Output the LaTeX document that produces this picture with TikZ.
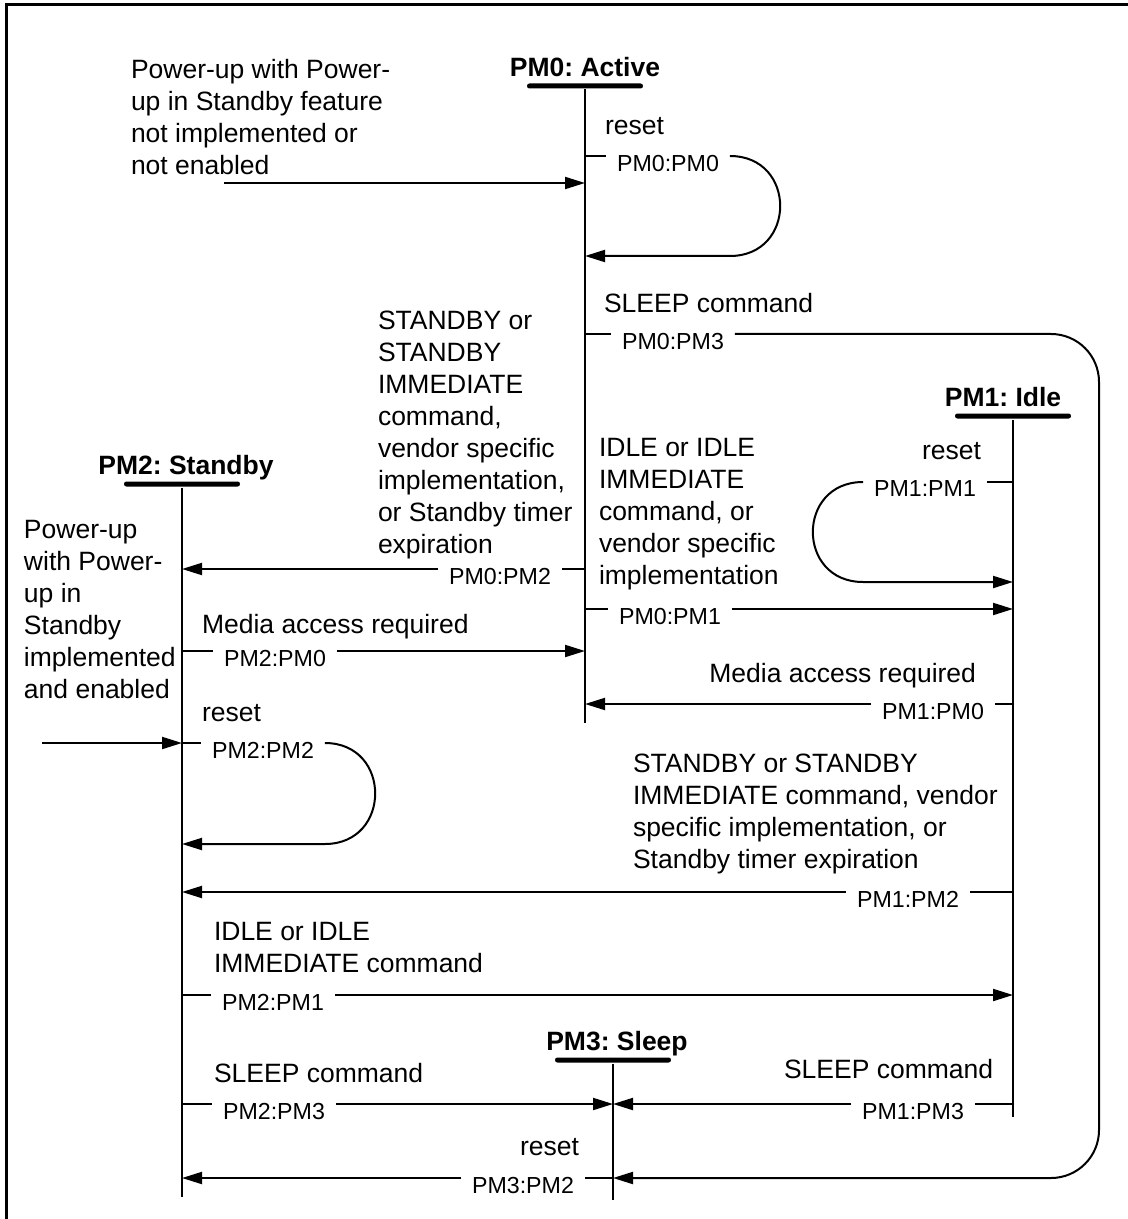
\documentclass[tikz,border=0pt]{standalone}
\usepackage{fontspec}
\setmainfont{Liberation Sans}
\usetikzlibrary{arrows.meta, positioning}
\frenchspacing

\begin{document}
\begin{tikzpicture}[x=0.5pt, y=-0.5pt, line width=1pt,
    arr/.style={-{Triangle[length=10pt, width=6pt]}},
    bar/.style={fill, minimum width=58pt, minimum height=2.5pt, inner sep=0pt, rounded corners=1.2pt},
    state/.style={font=\fontsize{13.25}{16}\selectfont\bfseries, inner sep=0pt},
    tr/.style={font=\fontsize{11.6}{14}\selectfont, inner xsep=5pt, inner ysep=-1pt, anchor=north},
    txt/.style={font=\fontsize{13.25}{16}\selectfont, align=left, inner sep=0pt, anchor=north west}]
    \useasboundingbox (0,0) rectangle (1128,1219);
    \draw[line width=1.5pt] (1128,5) -- (6,5) -- (6,1219);

    % states
    \node[bar] (b0) at (585,86) {};
    \node[bar] (b1) at (1013,416) {};
    \node[bar] (b2) at (182,484) {};
    \node[bar] (b3) at (613,1060) {};
    \node[state, above=3pt of b0, anchor=base] (s0) {PM0: Active};
    \node[state, above=3pt of b1, anchor=base, xshift=-5pt] (s1) {PM1: Idle};
    \node[state, above=3pt of b2, anchor=base, xshift=2pt] (s2) {PM2: Standby};
    \node[state, above=3pt of b3, anchor=base, xshift=2pt] (s3) {PM3: Sleep};

    \coordinate (e0) at (585,723);
    \coordinate (e1) at (1013,1117);
    \coordinate (e2) at (182,1197);
    \coordinate (e3) at (613,1200);
    \draw (b0) -- (e0);
    \draw (b1) -- (e1);
    \draw (b2) -- (e2);
    \draw (b3) -- (e3);

    % conditions
    \node[txt] (c0) at (130,58) {Power-up with Power-\\up in Standby feature\\not implemented or\\not enabled};
    \node[txt] (c00) at (604,116) {reset};
    \node[txt] (c03) at (603,292) {SLEEP command};
    \node[txt] (c02) at (377,310) {STANDBY or\\STANDBY\\IMMEDIATE\\command,\\vendor specific\\implementation,\\or Standby timer\\expiration};
    \node[txt] (c01) at (598,437) {IDLE or IDLE\\IMMEDIATE\\command, or\\vendor specific\\implementation};
    \node[txt, anchor=north east] (c11) at (982,441) {reset};
    \node[txt] (c2) at (23,519) {Power-up\\with Power-\\up in\\Standby\\implemented\\and enabled};
    \node[txt] (c20) at (201,613) {Media access required};
    \node[txt, anchor=north east] (c10) at (977,662) {Media access required};
    \node[txt] (c22) at (201,703) {reset};
    \node[txt] (c12) at (632,753) {STANDBY or STANDBY\\IMMEDIATE command, vendor\\specific implementation, or\\Standby timer expiration};
    \node[txt] (c21) at (213,921) {IDLE or IDLE\\IMMEDIATE command};
    \node[txt] (c23) at (213,1062) {SLEEP command};
    \node[txt] (c13) at (783,1058) {SLEEP command};
    \node[txt] (c32) at (519,1137) {reset};

    % transitions
    \node[tr] (t00) at (668,156) {PM0:PM0};
    \node[tr] (t03) at (673,334) {PM0:PM3};
    \node[tr] (t02) at (500,569) {PM0:PM2};
    \node[tr] (t01) at (670,609) {PM0:PM1};
    \node[tr] (t11) at (925,482) {PM1:PM1};
    \node[tr] (t10) at (933,704) {PM1:PM0};
    \node[tr] (t12) at (908,892) {PM1:PM2};
    \node[tr] (t13) at (913,1104) {PM1:PM3};
    \node[tr] (t20) at (275,651) {PM2:PM0};
    \node[tr] (t22) at (263,743) {PM2:PM2};
    \node[tr] (t21) at (273,995) {PM2:PM1};
    \node[tr] (t23) at (274,1104) {PM2:PM3};
    \node[tr] (t32) at (523,1178) {PM3:PM2};

    \coordinate (p0) at (224,183);
    \coordinate (p2) at (42,743);
    \coordinate (r00) at (585,256);
    \coordinate (r11) at (1013,582);
    \coordinate (r22) at (182,844);
    \coordinate (bend) at (1099,1178);

    % power-up
    \draw[arr] (p0) -- (p0 -| b0);
    \draw[arr] (p2) -- (p2 -| b2);

    % from PM0
    \draw (t00.north west -| b0) -- (t00.north west);
    \draw[arr] (t00.north east) .. controls +(67,0) and +(67,0) .. (t00.north east |- r00) -- (r00);
    \draw (t03.north west -| b0) -- (t03.north west);
    \draw[arr, rounded corners=24pt] (t03.north east) -| (bend) -- (bend -| b3);
    \draw (t02.north east -| b0) -- (t02.north east);
    \draw[arr] (t02.north west) -- (t02.north west -| b2);
    \draw (t01.north west -| b0) -- (t01.north west);
    \draw[arr] (t01.north east) -- (t01.north east -| b1);

    % from PM1
    \draw (t11.north east -| b1) -- (t11.north east);
    \draw[arr] (t11.north west) .. controls +(-67,0) and +(-67,0) .. (t11.north west |- r11) -- (r11);
    \draw (t10.north east -| b1) -- (t10.north east);
    \draw[arr] (t10.north west) -- (t10.north west -| b0);
    \draw (t12.north east -| b1) -- (t12.north east);
    \draw[arr] (t12.north west) -- (t12.north west -| b2);
    \draw (t13.north east -| b1) -- (t13.north east);
    \draw[arr] (t13.north west) -- (t13.north west -| b3);

    % from PM2
    \draw (t20.north west -| b2) -- (t20.north west);
    \draw[arr] (t20.north east) -- (t20.north east -| b0);
    \draw (t22.north west -| b2) -- (t22.north west);
    \draw[arr] (t22.north east) .. controls +(67,0) and +(67,0) .. (t22.north east |- r22) -- (r22);
    \draw (t21.north west -| b2) -- (t21.north west);
    \draw[arr] (t21.north east) -- (t21.north east -| b1);
    \draw (t23.north west -| b2) -- (t23.north west);
    \draw[arr] (t23.north east) -- (t23.north east -| b3);

    % from PM3
    \draw (t32.north east -| b3) -- (t32.north east);
    \draw[arr] (t32.north west) -- (t32.north west -| b2);
\end{tikzpicture}
\end{document}
